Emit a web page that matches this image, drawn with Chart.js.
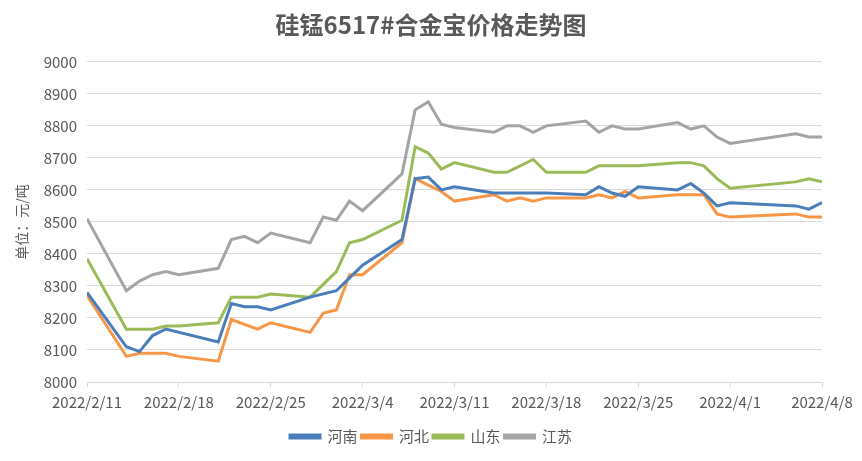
<!DOCTYPE html>
<html lang="zh">
<head>
<meta charset="UTF-8">
<title>硅锰6517#合金宝价格走势图</title>
<script src="https://cdn.jsdelivr.net/npm/chart.js"></script>
<style>
  html, body { margin: 0; padding: 0; background: #fff; }
  #wrap { width: 862px; height: 461px; }
</style>
</head>
<body>
<div id="wrap"><canvas id="myChart"></canvas></div>
<script>
// trading days (2022)
const dates = ['2/11','2/14','2/15','2/16','2/17','2/18','2/21','2/22','2/23','2/24','2/25',
  '2/28','3/1','3/2','3/3','3/4','3/7','3/8','3/9','3/10','3/11',
  '3/14','3/15','3/16','3/17','3/18','3/21','3/22','3/23','3/24','3/25',
  '3/28','3/29','3/30','3/31','4/1','4/6','4/7','4/8'];

const henan = [8280,8110,8095,8145,8165,null,8125,8245,8235,8235,8225,
  8265,null,8285,8325,8365,8445,8635,8640,8600,8610,
  8590,8590,8590,8590,8590,8585,8610,8590,8580,8610,
  8600,8620,8590,8550,8560,8550,8540,8560];
const hebei = [8270,8080,8090,8090,8090,8080,8065,8195,8180,8165,8185,
  8155,8215,8225,8335,8335,8435,8635,8615,8595,8565,
  8585,8565,8575,8565,8575,8575,8585,8575,8595,8575,
  8585,8585,8585,8525,8515,8525,8515,8515];
const shandong = [8385,8165,8165,8165,8175,8175,8185,8265,8265,8265,8275,
  8265,8305,8345,8435,8445,8505,8735,8715,8665,8685,
  8655,8655,8675,8695,8655,8655,8675,8675,8675,8675,
  8685,8685,8675,8635,8605,8625,8635,8625];
const jiangsu = [8510,8285,8315,8335,8345,8335,8355,8445,8455,8435,8465,
  8435,8515,8505,8565,8535,8650,8850,8875,8805,8795,
  8780,8800,8800,8780,8800,8815,8780,8800,8790,8790,
  8810,8790,8800,8765,8745,8775,8765,8765];

const yTicks = { min: 8000, max: 9000, step: 100 };
const xTicks = { first: '2/11', last: '4/8', stepDays: 7 };

const start = Date.UTC(2022, 1, 11);
function dayOf(s) {
  const p = s.split('/');
  return Math.round((Date.UTC(2022, +p[0] - 1, +p[1]) - start) / 86400000);
}
function labelOf(d) {
  const t = new Date(start + d * 86400000);
  return '2022/' + (t.getUTCMonth() + 1) + '/' + t.getUTCDate();
}
function pts(vals) {
  return dates.map((d, i) => ({ x: dayOf(d), y: vals[i] }));
}

const txt = '#595959';
const font = "'Noto Sans CJK SC', 'Noto Sans', sans-serif";

function ds(label, vals, color) {
  return {
    label: label, data: pts(vals), borderColor: color, backgroundColor: color,
    borderWidth: 3, pointRadius: 0, tension: 0, spanGaps: true
  };
}

new Chart(document.getElementById('myChart'), {
  type: 'line',
  data: {
    datasets: [
      ds('河南', henan, '#4a7ebb'),
      ds('河北', hebei, '#f79646'),
      ds('山东', shandong, '#9bbb59'),
      ds('江苏', jiangsu, '#a5a5a5')
    ]
  },
  options: {
    responsive: true,
    maintainAspectRatio: false,
    animation: false,
    layout: { padding: { left: 40, right: 40, top: 0, bottom: 7 } },
    scales: {
      x: {
        type: 'linear',
        min: dayOf(xTicks.first), max: dayOf(xTicks.last),
        afterBuildTicks: (s) => {
          const t = [];
          for (let d = s.min; d <= s.max; d += xTicks.stepDays) t.push({ value: d });
          s.ticks = t;
        },
        afterFit: (s) => { s.height = 43; },
        grid: { display: true, drawOnChartArea: false, drawTicks: true, tickLength: 5, color: '#d9d9d9' },
        border: { color: '#d9d9d9' },
        ticks: {
          color: txt, font: { family: font, size: 15 }, maxRotation: 0, padding: 6,
          callback: (v) => labelOf(v)
        }
      },
      y: {
        min: yTicks.min, max: yTicks.max,
        afterFit: (s) => { s.width = 47; },
        ticks: {
          stepSize: yTicks.step, color: txt, font: { family: font, size: 15 }, padding: 10,
          callback: (v) => String(v)
        },
        grid: { color: '#d9d9d9', drawTicks: false },
        border: { display: false },
        title: {
          display: true, text: '单位：元/吨', color: txt, font: { family: font, size: 14 },
          padding: { top: -27, bottom: 0 }
        }
      }
    },
    plugins: {
      title: {
        display: true, text: '硅锰6517#合金宝价格走势图', color: txt,
        font: { family: font, size: 24, weight: 'bold' }, padding: { top: 10, bottom: 23 }
      },
      legend: {
        position: 'bottom',
        labels: {
          color: txt, font: { family: font, size: 15 }, boxWidth: 30, boxHeight: 3,
          padding: 4
        }
      },
      tooltip: { enabled: false }
    }
  }
});
</script>
</body>
</html>
